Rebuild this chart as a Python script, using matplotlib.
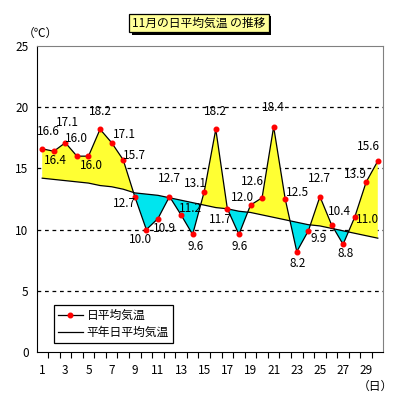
import matplotlib
matplotlib.use("Agg")
import matplotlib.pyplot as plt
import matplotlib.patheffects as pe
from matplotlib.lines import Line2D
import numpy as np

plt.rcParams['font.family'] = ['Noto Sans CJK JP', 'DejaVu Sans']

days = list(range(1, 31))
daily = [16.6, 16.4, 17.1, 16.0, 16.0, 18.2, 17.1, 15.7, 12.7, 10.0,
         10.9, 12.7, 11.2, 9.6, 13.1, 18.2, 11.7, 9.6, 12.0, 12.6,
         18.4, 12.5, 8.2, 9.9, 12.7, 10.4, 8.8, 11.0, 13.9, 15.6]
normal = [14.2, 14.1, 14.0, 13.9, 13.8, 13.6, 13.5, 13.3, 13.0, 12.9,
          12.8, 12.6, 12.4, 12.2, 12.0, 11.8, 11.7, 11.5, 11.4, 11.2,
          11.0, 10.8, 10.6, 10.4, 10.3, 10.1, 9.9, 9.7, 9.5, 9.3]
xtick_labels = [str(d) for d in range(1, 30, 2)]
yticks = [0, 5, 10, 15, 20, 25]

title = "11月の日平均気温 の推移"
legend_daily = "日平均気温"
legend_normal = "平年日平均気温"

# label offsets in pixels (dx, dy) relative to each point
label_offsets = [(6, 17), (2, -9), (2, 20), (0, 18), (3, -9), (0, 18), (13, 8), (11, 4),
                 (-10, -7), (-6, -10), (7, -10), (0, 18), (9, 6), (3, -12), (-9, 8),
                 (0, 18), (-7, -11), (1, -12), (-8, 8), (-10, 16), (0, 19), (12, 7),
                 (1, -12), (10, -8), (0, 18), (8, 13), (3, -9), (13, -2), (-11, 7), (-9, 15)]

fig = plt.figure(figsize=(3.99, 4.0), dpi=100)
ax = fig.add_axes([37/399, 48/400, 346/399, 306/400])

d = np.array(days, dtype=float)
y = np.array(daily)
n = np.array(normal)
ax.fill_between(d, y, n, where=y >= n, interpolate=True, facecolor='#FFFF33', edgecolor='none', zorder=1)
ax.fill_between(d, y, n, where=y <= n, interpolate=True, facecolor='#00E5EE', edgecolor='none', zorder=1)

for yy in [5, 10, 15, 20]:
    ax.axhline(yy, color='black', lw=0.9, ls=(0, (3, 3)), zorder=0.5)

ax.plot(d, n, color='black', lw=0.9, zorder=2)
ax.plot(d, y, color='black', lw=0.9, zorder=3)
ax.plot(d, y, ls='none', marker='o', ms=3.3, mfc='red', mec='red', zorder=4)

for xi, yi, (dx, dy) in zip(days, daily, label_offsets):
    ax.annotate(f"{yi:.1f}", (xi, yi), xytext=(dx, dy), textcoords='offset pixels',
                ha='center', va='center', fontsize=8.5, zorder=5)

ax.set_xlim(0.55, 30.45)
ax.set_ylim(0, 25)
ax.set_yticks(yticks)
ax.set_yticklabels([str(t) for t in yticks], fontsize=8.5)
ax.set_xticks(list(range(1, 30, 2)))
ax.set_xticklabels(xtick_labels, fontsize=8.5)
ax.set_xticks(np.arange(1.5, 30.5, 1), minor=True)
ax.tick_params(axis='x', which='major', length=0, pad=9)
ax.tick_params(axis='x', which='minor', length=4, width=0.8, direction='out')
ax.tick_params(axis='y', length=0, pad=6)

for s in ['top', 'right']:
    ax.spines[s].set_color('#808080')
for s in ['left', 'bottom']:
    ax.spines[s].set_color('black')

h1 = Line2D([], [], color='black', lw=0.9, marker='o', ms=3.3, mfc='red', mec='red')
h2 = Line2D([], [], color='black', lw=0.9)
leg = ax.legend([h1, h2], [legend_daily, legend_normal], loc='lower left',
                bbox_to_anchor=(0.049, 0.029), borderaxespad=0, fancybox=False,
                edgecolor='black', framealpha=1, fontsize=8.5, handlelength=2.1,
                handletextpad=0.3, labelspacing=0.35, borderpad=0.35)
leg.get_frame().set_linewidth(0.9)

fig.text(40/399, 1 - 33/400, "（℃）", ha='center', va='center', fontsize=8.5)
fig.text(375/399, 1 - 386/400, "（日）", ha='center', va='center', fontsize=8.5)

t = fig.text(199/399, 1 - 23/400, title, ha='center', va='center', fontsize=8.5,
             bbox=dict(boxstyle='square,pad=0.25', facecolor='#FFFF99', edgecolor='black', lw=0.9))
fig.canvas.draw()
t.get_bbox_patch().set_path_effects([pe.SimplePatchShadow(offset=(2, -2), shadow_rgbFace='black', alpha=1), pe.Normal()])

fig.savefig("out.png", dpi=100)
